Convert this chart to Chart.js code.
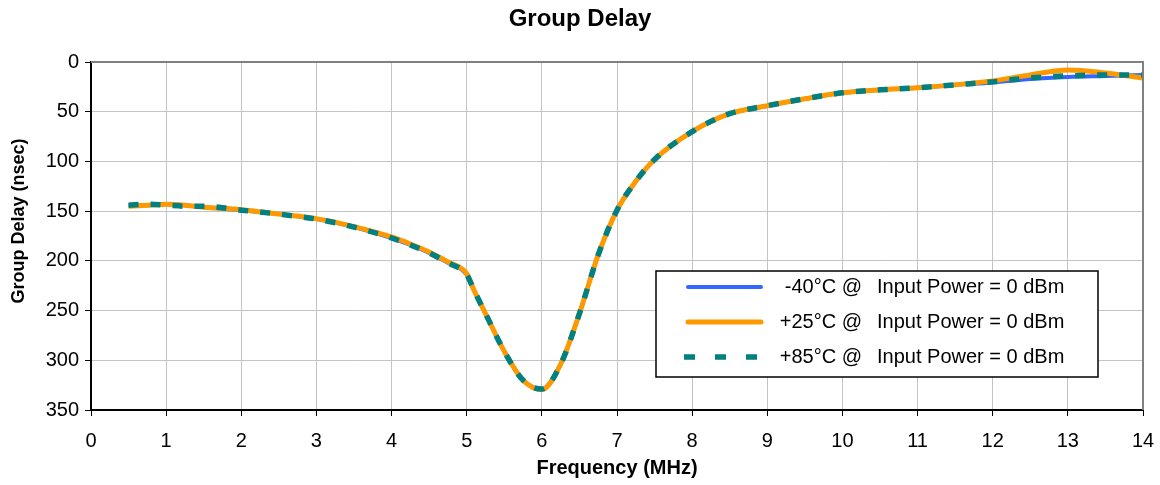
<!DOCTYPE html>
<html>
<head>
<meta charset="utf-8">
<script src="https://cdn.jsdelivr.net/npm/chart.js@4/dist/chart.umd.min.js"></script>
<style>
  body { margin: 0; background: #fff; }
</style>
</head>
<body>
<canvas id="myChart" width="1160" height="485"></canvas>
<script>
// frequency points (MHz)
const freq = [0.5, 0.75, 1, 1.25, 1.5, 2, 2.5, 3, 3.5, 4, 4.25, 4.5, 4.75, 5, 5.1, 5.25, 5.5, 5.75, 6, 6.25, 6.5, 6.75, 7, 7.25, 7.5, 8, 8.5, 9, 9.5, 10, 10.5, 11, 11.5, 12, 12.5, 13, 13.5, 14];
// group delay in nsec for each temperature
const delayMinus40 = [144, 144, 143, 144, 146, 149, 153, 158, 166, 177, 184, 192, 202, 214, 230, 253, 291, 320, 329, 304, 253, 194, 149, 120, 98, 70, 52, 44, 37, 31, 28, 26, 23, 20.5, 17, 15, 14, 13];
const delayPlus25  = [145, 144, 143, 144, 146, 148.5, 153, 157.5, 165.5, 176, 183, 191, 201, 213, 230, 253, 291, 320, 329.5, 304, 253, 194, 149, 120, 98, 70, 52, 44, 37, 31, 28, 26, 23, 19, 13, 8, 11, 16];
const delayPlus85  = [144, 143, 144, 145, 145, 149, 153, 158, 166, 177, 184, 192, 202, 214, 230, 253, 291, 320, 329, 304, 253, 194, 149, 120, 98, 70, 52, 44, 37, 31, 28, 26, 23, 20, 16, 14, 13, 13];
const seriesLabels = ['-40°C @  Input Power = 0 dBm', '+25°C @  Input Power = 0 dBm', '+85°C @  Input Power = 0 dBm'];
const xTicks = [0, 1, 2, 3, 4, 5, 6, 7, 8, 9, 10, 11, 12, 13, 14];
const yTicks = [0, 50, 100, 150, 200, 250, 300, 350];
const yTitle = 'Group Delay (nsec)';

const FONT = "'Liberation Sans', Arial, Helvetica, sans-serif";

function pts(arr) {
  return freq.map(function(f, i) { return {x: f, y: arr[i]}; });
}

// frame on the top and right, y title, legend box inside the plot
const framePlugin = {
  id: 'frame',
  afterDraw(chart) {
    const ctx = chart.ctx;
    const a = chart.chartArea;
    ctx.save();
    ctx.strokeStyle = '#808080';
    ctx.lineWidth = 2;
    ctx.beginPath();
    ctx.moveTo(a.left, a.top);
    ctx.lineTo(a.right, a.top);
    ctx.lineTo(a.right, a.bottom);
    ctx.stroke();

    // y axis title
    ctx.save();
    ctx.translate(19, 221);
    ctx.rotate(-Math.PI / 2);
    ctx.font = 'bold 18px ' + FONT;
    ctx.fillStyle = '#000';
    ctx.textAlign = 'center';
    ctx.textBaseline = 'middle';
    ctx.fillText(yTitle, 0, 0);
    ctx.restore();

    // legend
    const bx = 656, by = 271, bw = 442, bh = 106;
    ctx.fillStyle = '#fff';
    ctx.fillRect(bx, by, bw, bh);
    ctx.strokeStyle = '#000';
    ctx.lineWidth = 1.5;
    ctx.strokeRect(bx, by, bw, bh);
    const rows = [287, 322, 357];
    ctx.font = '20px ' + FONT;
    ctx.textBaseline = 'middle';
    chart.data.datasets.forEach(function(ds, i) {
      const y = rows[i];
      const dashed = ds.borderDash.length > 0;
      ctx.beginPath();
      ctx.strokeStyle = ds.borderColor;
      ctx.lineWidth = dashed ? 5.5 : ds.borderWidth;
      ctx.lineCap = dashed ? 'butt' : 'round';
      ctx.setLineDash(dashed ? [11, 20] : []);
      ctx.moveTo(dashed ? 684 : 688, y);
      ctx.lineTo(dashed ? 757 : 761, y);
      ctx.stroke();
      ctx.setLineDash([]);
      const parts = ds.label.split('@');
      ctx.fillStyle = '#000';
      ctx.textAlign = 'right';
      ctx.fillText(parts[0].trim() + ' @', 862, y);
      ctx.textAlign = 'left';
      ctx.fillText(parts[1].trim(), 877, y);
    });
    ctx.restore();
  }
};

const ctx = document.getElementById('myChart');
new Chart(ctx, {
  type: 'line',
  data: {
    datasets: [
      {label: seriesLabels[0], data: pts(delayMinus40), borderColor: '#3366ff', borderWidth: 4, borderDash: [], order: 2},
      {label: seriesLabels[1], data: pts(delayPlus25), borderColor: '#ff9900', borderWidth: 5, borderDash: [], order: 1},
      {label: seriesLabels[2], data: pts(delayPlus85), borderColor: '#008080', borderWidth: 5.5, borderDash: [10, 12], order: 0}
    ]
  },
  options: {
    responsive: false,
    animation: false,
    devicePixelRatio: 1,
    layout: {padding: 0},
    elements: {
      point: {radius: 0},
      line: {cubicInterpolationMode: 'monotone', borderCapStyle: 'butt'}
    },
    plugins: {
      legend: {display: false},
      tooltip: {enabled: false},
      title: {
        display: true,
        text: 'Group Delay',
        color: '#000',
        font: {family: FONT, size: 24, weight: 'bold'},
        padding: {top: 5, bottom: 28.2}
      }
    },
    scales: {
      x: {
        type: 'linear',
        min: 0, max: 14,
        afterBuildTicks(scale) { scale.ticks = xTicks.map(function(v) { return {value: v}; }); },
        afterFit(scale) { scale.height = 75; scale.paddingLeft = 0; scale.paddingRight = 17; },
        ticks: {color: '#000', font: {family: FONT, size: 20}, padding: 13, maxRotation: 0},
        grid: {color: '#c4c4c4', lineWidth: 1, tickColor: '#000', tickLength: 6},
        border: {color: '#000', width: 2},
        title: {display: true, text: 'Frequency (MHz)', color: '#000', font: {family: FONT, size: 20, weight: 'bold'}, padding: {top: 0, bottom: 5}}
      },
      y: {
        reverse: true,
        min: 0, max: 350,
        afterBuildTicks(scale) { scale.ticks = yTicks.map(function(v) { return {value: v}; }); },
        afterFit(scale) { scale.width = 91; scale.paddingTop = 0; scale.paddingBottom = 0; },
        ticks: {color: '#000', font: {family: FONT, size: 20}, padding: 6},
        grid: {color: '#c4c4c4', lineWidth: 1, tickColor: '#000', tickLength: 6},
        border: {color: '#000', width: 2},
        title: {display: false}
      }
    }
  },
  plugins: [framePlugin]
});
</script>
</body>
</html>
